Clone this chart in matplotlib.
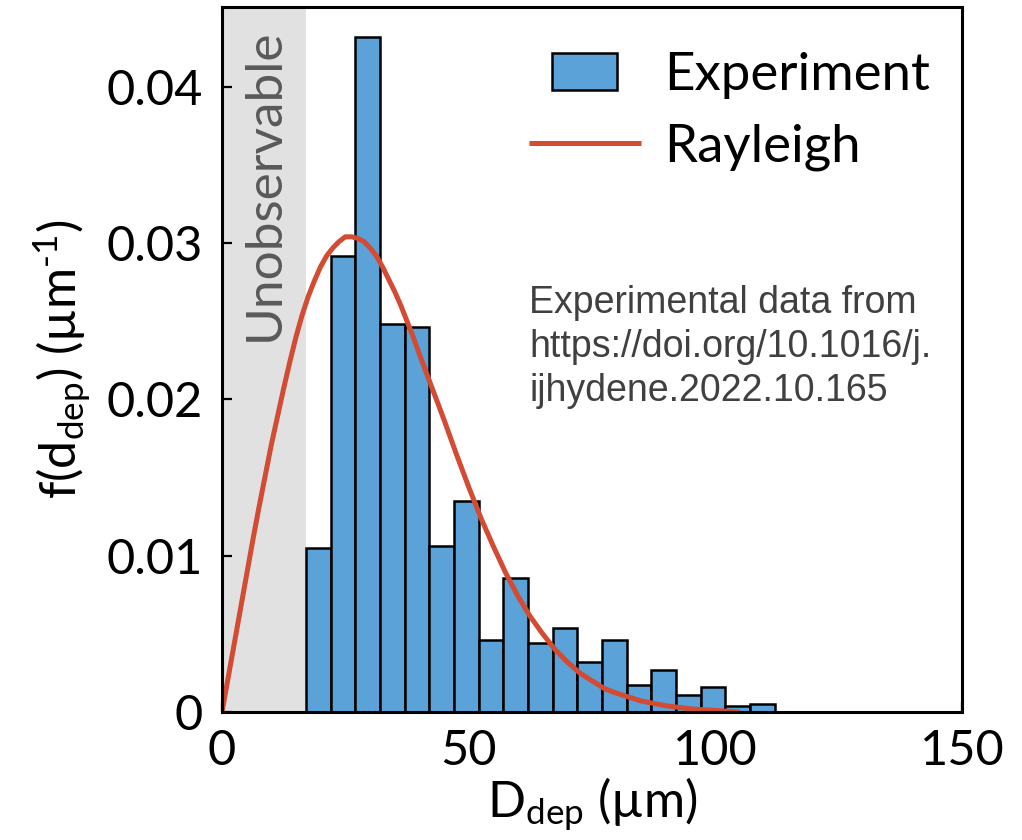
import matplotlib
matplotlib.use("Agg")
import matplotlib.pyplot as plt
from matplotlib.patches import Rectangle
from matplotlib.legend_handler import HandlerPatch

# ---- data ----
bin_edges = [17, 22, 27, 32, 37, 42, 47, 52, 57, 62, 67, 72, 77, 82, 87, 92, 97, 102, 107, 112]
experiment = [0.0105, 0.0292, 0.0432, 0.0248, 0.0246, 0.0106, 0.0135, 0.0046, 0.0086, 0.0044,
              0.0054, 0.0032, 0.0046, 0.0017, 0.0027, 0.0011, 0.0016, 0.0004, 0.0005]
rayleigh_x = [0, 1.25, 2.5, 3.75, 5, 6.25, 7.5, 8.75, 10, 11.25, 12.5, 13.75, 15, 16.25, 17.5,
              18.75, 20, 21.25, 22.5, 23.75, 25, 26.25, 27.5, 28.75, 30, 31.25, 32.5, 33.75, 35,
              36.25, 37.5, 38.75, 40, 42.5, 45, 47.5, 50, 52.5, 55, 57.5, 60, 62.5, 65, 67.5,
              70, 72.5, 75, 77.5, 80, 85, 90, 95, 100, 105]
rayleigh_y = [0, 0.0022, 0.0044, 0.0066, 0.0088, 0.0110, 0.0131, 0.0151, 0.0171, 0.0189,
              0.0207, 0.0224, 0.0240, 0.0254, 0.0266, 0.0276, 0.0285, 0.0292, 0.0297, 0.0301,
              0.0304, 0.0304, 0.0303, 0.0301, 0.0297, 0.0292, 0.0285, 0.0277, 0.0269, 0.0260,
              0.0250, 0.0240, 0.0229, 0.0208, 0.0187, 0.0165, 0.0144, 0.0124, 0.0106, 0.0089,
              0.0074, 0.0061, 0.0050, 0.0040, 0.0032, 0.0025, 0.0020, 0.0015, 0.0012, 0.0007,
              0.0004, 0.0002, 0.0001, 0.0]
unobservable_limit = 17
xticks = [0, 50, 100, 150]
yticks = [0, 0.01, 0.02, 0.03, 0.04]
ytick_labels = ["0", "0.01", "0.02", "0.03", "0.04"]

FONT = "Lato"
plt.rcParams["font.family"] = [FONT, "DejaVu Sans"]
plt.rcParams["mathtext.fontset"] = "custom"
plt.rcParams["mathtext.rm"] = FONT
plt.rcParams["mathtext.it"] = FONT
plt.rcParams["mathtext.default"] = "rm"

fig = plt.figure(figsize=(10.22, 8.40), dpi=100)
ax = fig.add_axes([222 / 1022, 1 - 712 / 840, (962 - 222) / 1022, (712 - 7) / 840])

BAR_COLOR = "#5AA2D7"
LINE_COLOR = "#D24B32"

ax.axvspan(0, unobservable_limit, color="#E1E1E1", zorder=0, lw=0)

lefts = bin_edges[:-1]
widths = [b - a for a, b in zip(bin_edges[:-1], bin_edges[1:])]
ax.bar(lefts, experiment, width=widths, align="edge", color=BAR_COLOR,
       edgecolor="black", linewidth=1.8, zorder=2)
line, = ax.plot(rayleigh_x, rayleigh_y, color=LINE_COLOR, lw=3.6, zorder=3,
                solid_capstyle="butt", solid_joinstyle="round")

ax.set_xlim(0, 150)
ax.set_ylim(0, 0.0451)
ax.set_xticks(xticks)
ax.set_xticklabels([str(t) for t in xticks])
ax.set_yticks(yticks)
ax.set_yticklabels(ytick_labels)
ax.tick_params(direction="in", length=7, width=1.6, labelsize=35, pad=12)
ax.tick_params(axis="y", pad=14)
for s in ax.spines.values():
    s.set_linewidth(2.2)
    s.set_zorder(5)

ax.set_xlabel("D$_{\\mathrm{dep}}$ (µm)", fontsize=36, labelpad=2)
ax.set_ylabel("f(d$_{\\mathrm{dep}}$) (µm$^{\\text{-1}}$)", fontsize=36, labelpad=10)

ax.text(8.7, 0.0437, "Unobservable", rotation=90, ha="center", va="top",
        fontsize=37, color="#595959", zorder=1)

ax.text(62.3, 0.0273, "Experimental data from\nhttps://doi.org/10.1016/j.\nijhydene.2022.10.165",
        fontsize=27, color="#404040", family="Liberation Sans", ha="left", va="top",
        linespacing=1.28, zorder=4)


def make_small_rect(legend, orig_handle, xdescent, ydescent, width, height, fontsize):
    w = width * 0.58
    h = height * 1.0
    return Rectangle((-xdescent + (width - w) / 2, -ydescent + (height - h) / 2), w, h)


bar_proxy = Rectangle((0, 0), 1, 1, facecolor=BAR_COLOR, edgecolor="black", linewidth=1.8)
leg = ax.legend([bar_proxy, line], ["Experiment", "Rayleigh"], loc="upper right",
                bbox_to_anchor=(1.003, 0.985),
                frameon=False, fontsize=38, handlelength=2.12, handletextpad=0.44,
                labelspacing=0.46, borderaxespad=0.35, borderpad=0.3,
                handler_map={Rectangle: HandlerPatch(patch_func=make_small_rect)})

fig.savefig("out.png", dpi=100)
